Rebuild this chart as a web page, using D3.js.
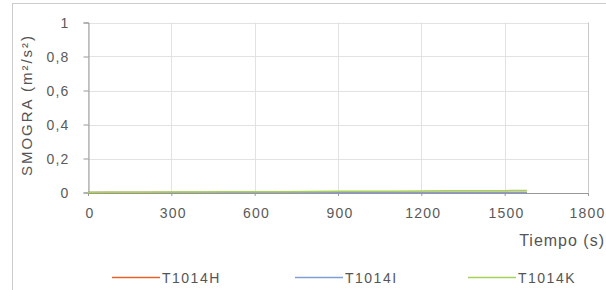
<!DOCTYPE html>
<html><head><meta charset="utf-8">
<script src="https://cdn.jsdelivr.net/npm/d3@7"></script>
<style>body{margin:0;background:#fff}svg{display:block}text{font-family:"Liberation Sans",Arial,sans-serif;fill:#555}</style>
</head><body>
<svg id="c" width="606" height="290"></svg>
<script>
const seriesNames = ["T1014H", "T1014I", "T1014K"];
const seriesColors = ["#e8632b", "#7f9fd4", "#a6d25a"];
const times = [0, 100, 200, 300, 400, 500, 600, 700, 800, 900, 1000, 1100, 1200, 1300, 1400, 1500, 1580];
const valuesH = [0, 0, 0, 0, 0, 0, 0, 0, 0, 0, 0, 0, 0, 0, 0, 0, 0];
const valuesI = [0, 0, 0, 0, 0, 0, 0, 0, 0, 0, 0, 0, 0, 0, 0, 0, 0];
const valuesK = [0, 0.001, 0.002, 0.003, 0.003, 0.004, 0.005, 0.005, 0.006, 0.007, 0.007, 0.008, 0.009, 0.01, 0.01, 0.011, 0.012];
const xTicks = [0, 300, 600, 900, 1200, 1500, 1800];
const yTicks = [0, 0.2, 0.4, 0.6, 0.8, 1];

const svg = d3.select("#c");
const L = 88, R = 588, T = 22.5, B = 192.5;
const x = d3.scaleLinear().domain([0, 1800]).range([L, R]);
const y = d3.scaleLinear().domain([0, 1]).range([B, T]);

// outer frame
svg.append("rect").attr("x", 12.5).attr("y", 3.5).attr("width", 600).attr("height", 290)
  .attr("fill", "none").attr("stroke", "#ccc");

// grid
svg.append("g").selectAll("line").data(yTicks).join("line")
  .attr("x1", L).attr("x2", R).attr("y1", d => Math.round(y(d)) + 0.5).attr("y2", d => Math.round(y(d)) + 0.5)
  .attr("stroke", "#e2e2e2");
svg.append("g").selectAll("line").data(xTicks).join("line")
  .attr("y1", T).attr("y2", B).attr("x1", d => Math.round(x(d)) + 0.5).attr("x2", d => Math.round(x(d)) + 0.5)
  .attr("stroke", "#e2e2e2");
svg.append("line").attr("x1", R + 0.5).attr("x2", R + 0.5).attr("y1", T).attr("y2", B).attr("stroke", "#c8c8c8");

const fmt = d => String(d).replace(".", ",");
const yAxis = svg.append("g").attr("transform", `translate(${L + 0.5},0)`)
  .call(d3.axisLeft(y).tickValues(yTicks).tickFormat(fmt).tickSize(5).tickPadding(14));
const xAxis = svg.append("g").attr("transform", `translate(0,${B + 0.5})`)
  .call(d3.axisBottom(x).tickValues(xTicks).tickFormat(d => d).tickSize(3).tickPadding(13));
[yAxis, xAxis].forEach(a => {
  a.select(".domain").attr("stroke", "#999");
  a.selectAll(".tick line").attr("stroke", "#999");
  a.selectAll("text").attr("font-size", 14).style("letter-spacing", "1.2px").style("fill", "#5a5a5a");
});
yAxis.selectAll(".tick text").attr("dy", "0.36em");
xAxis.selectAll(".tick text").attr("y", 15).attr("dx", "0.1em");
xAxis.selectAll(".tick text").filter(d => d === 1800)
  .attr("text-anchor", "end").attr("dx", 0).attr("x", 605 - R);

// lines
const data = [valuesH, valuesI, valuesK];
const line = d3.line().x((d, i) => x(times[i])).y(d => y(d));
data.forEach((vals, k) => {
  svg.append("path").datum(vals).attr("d", line).attr("fill", "none")
    .attr("stroke", seriesColors[k]).attr("stroke-width", 1.5);
});

// titles
svg.append("text").attr("transform", "translate(32,105) rotate(-90)").attr("text-anchor", "middle")
  .attr("font-size", 15).style("letter-spacing", "2px").text("SMOGRA (m²/s²)");
svg.append("text").attr("x", 605).attr("y", 246).attr("text-anchor", "end").attr("font-size", 16)
  .style("letter-spacing", "1px").text("Tiempo (s)");

// legend
const legX = [112, 295, 468];
const lg = svg.append("g").selectAll("g").data(seriesNames).join("g")
  .attr("transform", (d, i) => `translate(${legX[i]},277)`);
lg.append("line").attr("x1", 0).attr("x2", 48).attr("y1", 0.5).attr("y2", 0.5)
  .attr("stroke", (d, i) => seriesColors[i]).attr("stroke-width", 1.5);
lg.append("text").attr("x", 50).attr("y", 6).attr("font-size", 14).style("letter-spacing", "1.5px").text(d => d);
</script>
</body></html>
